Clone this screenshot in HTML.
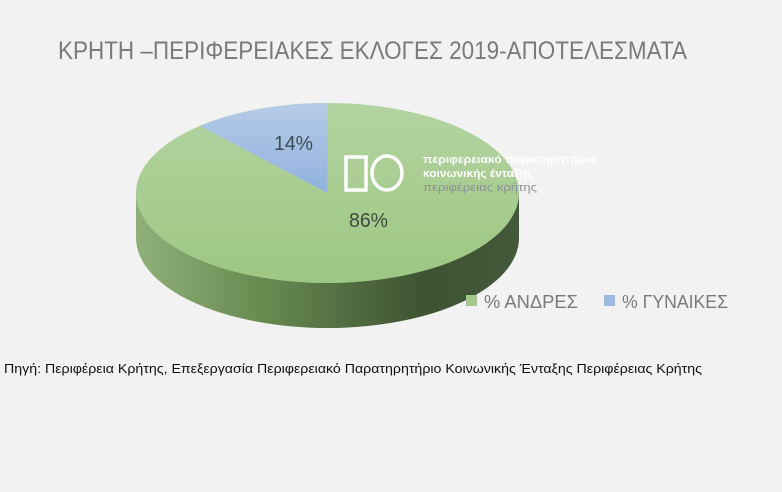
<!DOCTYPE html>
<html><head><meta charset="utf-8"><style>
html,body{margin:0;padding:0;background:#f2f2f2;}
svg{display:block;}
</style></head><body>
<svg width="782" height="492" viewBox="0 0 782 492" xmlns="http://www.w3.org/2000/svg">
<defs>
<linearGradient id="side" x1="136" y1="0" x2="519" y2="0" gradientUnits="userSpaceOnUse">
<stop offset="0" stop-color="#8fb07a"/>
<stop offset="0.35" stop-color="#66884f"/>
<stop offset="0.75" stop-color="#3e5333"/>
<stop offset="1" stop-color="#44593a"/>
</linearGradient>
<linearGradient id="topg" x1="0" y1="103" x2="0" y2="283" gradientUnits="userSpaceOnUse">
<stop offset="0" stop-color="#b3d3a0"/>
<stop offset="1" stop-color="#9dc783"/>
</linearGradient>
<linearGradient id="blue" x1="0" y1="103" x2="0" y2="193" gradientUnits="userSpaceOnUse">
<stop offset="0" stop-color="#b6cbe6"/>
<stop offset="1" stop-color="#90b1df"/>
</linearGradient>
</defs>
<rect x="0" y="0" width="782" height="492" fill="#f2f2f2"/>
<text x="58" y="59" font-family="Liberation Sans, sans-serif" font-size="25" fill="#7a7a7a" textLength="629" lengthAdjust="spacingAndGlyphs">ΚΡΗΤΗ –ΠΕΡΙΦΕΡΕΙΑΚΕΣ ΕΚΛΟΓΕΣ 2019-ΑΠΟΤΕΛΕΣΜΑΤΑ</text>
<path d="M136,193 L136,238 A191.5,90 0 0 0 519,238 L519,193 Z" fill="url(#side)"/>
<ellipse cx="327.5" cy="193" rx="191.5" ry="90" fill="url(#topg)"/>
<path d="M327.5,193 L327.5,103 A191.5,90 0 0 0 200,126 Z" fill="url(#blue)"/>
<text x="274" y="150" font-family="Liberation Sans, sans-serif" font-size="20" fill="#404a55" textLength="39" lengthAdjust="spacingAndGlyphs">14%</text>
<text x="349" y="227" font-family="Liberation Sans, sans-serif" font-size="20" fill="#404a40" textLength="39" lengthAdjust="spacingAndGlyphs">86%</text>
<rect x="346" y="157" width="20" height="33" fill="none" stroke="#fff" stroke-width="3.5"/>
<ellipse cx="387" cy="173" rx="15" ry="17" fill="none" stroke="#fff" stroke-width="3.5"/>
<path d="M375,162 Q368,173 375,184" fill="none" stroke="#fff" stroke-width="2.5"/>
<text x="423" y="163" font-family="Liberation Sans, sans-serif" font-size="11" font-weight="bold" fill="#fff" textLength="173" lengthAdjust="spacingAndGlyphs">περιφερειακό παρατηρητήριο</text>
<text x="423" y="177" font-family="Liberation Sans, sans-serif" font-size="11" font-weight="bold" fill="#fff" textLength="110" lengthAdjust="spacingAndGlyphs">κοινωνικής ένταξης</text>
<text x="423" y="191" font-family="Liberation Sans, sans-serif" font-size="11" fill="#8d8d95" textLength="114" lengthAdjust="spacingAndGlyphs">περιφέρειας κρήτης</text>
<rect x="466" y="295" width="11" height="11" fill="#a2c98a"/>
<text x="484" y="308" font-family="Liberation Sans, sans-serif" font-size="18" fill="#7a7a7a" textLength="94" lengthAdjust="spacingAndGlyphs">% ΑΝΔΡΕΣ</text>
<rect x="604" y="295" width="11" height="11" fill="#9dbae2"/>
<text x="622" y="308" font-family="Liberation Sans, sans-serif" font-size="18" fill="#7a7a7a" textLength="106" lengthAdjust="spacingAndGlyphs">% ΓΥΝΑΙΚΕΣ</text>
<text x="4" y="373" font-family="Liberation Sans, sans-serif" font-size="13" fill="#111" textLength="698" lengthAdjust="spacingAndGlyphs">Πηγή: Περιφέρεια Κρήτης, Επεξεργασία Περιφερειακό Παρατηρητήριο Κοινωνικής Ένταξης Περιφέρειας Κρήτης</text>
</svg>
</body></html>
